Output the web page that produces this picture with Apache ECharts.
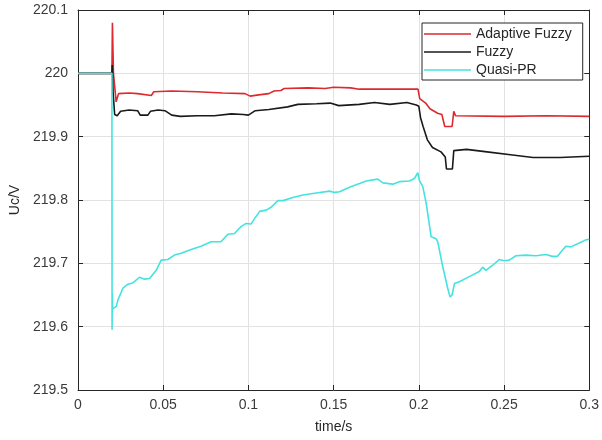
<!DOCTYPE html>
<html>
<head>
<meta charset="utf-8">
<script src="https://cdn.jsdelivr.net/npm/echarts@6/dist/echarts.min.js"></script>
<style>html,body{margin:0;padding:0;background:#fff;}#c{width:602px;height:440px;}</style>
</head>
<body>
<div id="c"></div>
<script>
// ---- data (time in s, voltage in V) ----
const seriesNames = ['Adaptive Fuzzy', 'Fuzzy', 'Quasi-PR'];
const xTicks = [0, 0.05, 0.1, 0.15, 0.2, 0.25, 0.3];
const yTicks = [219.5, 219.6, 219.7, 219.8, 219.9, 220, 220.1];

const adaptiveFuzzy = [
  [0,220],[0.0199,220],[0.0202,220.08],[0.0208,220.0],[0.0224,219.955],[0.0238,219.968],
  [0.03,219.969],[0.035,219.968],[0.0358,219.965],[0.043,219.965],[0.0445,219.971],
  [0.055,219.972],[0.07,219.971],[0.085,219.969],[0.098,219.968],[0.101,219.964],
  [0.106,219.966],[0.112,219.968],[0.115,219.972],[0.119,219.973],[0.121,219.976],
  [0.135,219.977],[0.145,219.976],[0.15,219.978],[0.16,219.977],[0.165,219.975],
  [0.185,219.975],[0.1995,219.975],[0.2005,219.96],[0.2015,219.963],[0.204,219.953],
  [0.2065,219.944],[0.211,219.937],[0.2135,219.935],[0.2152,219.916],[0.2195,219.916],
  [0.2205,219.94],[0.2215,219.933],[0.25,219.932],[0.275,219.933],[0.3,219.932]
];

const fuzzy = [
  [0,220],[0.0199,220],[0.0201,220.013],[0.0206,219.97],[0.0215,219.935],[0.023,219.933],
  [0.025,219.94],[0.03,219.942],[0.035,219.941],[0.0365,219.934],[0.041,219.934],
  [0.0425,219.94],[0.047,219.942],[0.051,219.941],[0.055,219.934],[0.06,219.932],
  [0.07,219.933],[0.08,219.933],[0.09,219.936],[0.097,219.935],[0.1,219.934],
  [0.104,219.941],[0.112,219.943],[0.123,219.947],[0.129,219.951],[0.14,219.952],
  [0.148,219.953],[0.153,219.949],[0.165,219.951],[0.174,219.954],[0.183,219.951],
  [0.193,219.954],[0.1985,219.95],[0.2,219.948],[0.201,219.93],[0.2025,219.916],
  [0.205,219.895],[0.208,219.883],[0.213,219.876],[0.2155,219.868],[0.2162,219.849],
  [0.2197,219.849],[0.2205,219.878],[0.228,219.88],[0.24,219.876],[0.255,219.871],
  [0.267,219.867],[0.283,219.867],[0.3,219.869]
];

const quasiPR = [
  [0,220],[0.0199,220],[0.02,219.595],[0.0201,219.652],[0.0203,219.628],[0.0225,219.632],
  [0.0234,219.642],[0.0264,219.661],[0.0293,219.667],[0.0322,219.669],[0.0332,219.666],
  [0.0361,219.678],[0.0391,219.675],[0.042,219.676],[0.0459,219.689],[0.0488,219.705],
  [0.0527,219.706],[0.0566,219.713],[0.0605,219.716],[0.0664,219.722],[0.0722,219.727],
  [0.0781,219.734],[0.0839,219.734],[0.0879,219.746],[0.0918,219.747],[0.0957,219.758],
  [0.0986,219.763],[0.1015,219.762],[0.1037,219.771],[0.1066,219.782],[0.1105,219.784],
  [0.1135,219.789],[0.1173,219.799],[0.1203,219.799],[0.1261,219.804],[0.132,219.808],
  [0.1398,219.811],[0.1476,219.814],[0.1505,219.812],[0.1535,219.813],[0.1593,219.82],
  [0.1652,219.826],[0.1691,219.83],[0.1759,219.833],[0.1789,219.827],[0.1847,219.825],
  [0.1886,219.829],[0.1945,219.83],[0.1974,219.834],[0.1994,219.843],[0.2003,219.831],
  [0.2023,219.821],[0.2043,219.795],[0.2072,219.742],[0.2101,219.739],[0.2111,219.734],
  [0.214,219.695],[0.2169,219.661],[0.2183,219.647],[0.2195,219.65],[0.2209,219.668],
  [0.2238,219.671],[0.2296,219.679],[0.2355,219.687],[0.2374,219.694],[0.2394,219.689],
  [0.2433,219.697],[0.2472,219.706],[0.2501,219.704],[0.253,219.705],[0.257,219.712],
  [0.2629,219.713],[0.2687,219.712],[0.2746,219.714],[0.2784,219.711],[0.2814,219.711],
  [0.2843,219.721],[0.2863,219.727],[0.2892,219.726],[0.2941,219.732],[0.298,219.737],
  [0.3,219.738]
];

const colors = ['#dc2a2e', '#1a1a1a', '#44e3e0'];

// ---- chart ----
const FONT = 'Liberation Sans, Arial, sans-serif';
const axisColor = '#262626';
const labelColor = '#3a3a3a';
const chart = echarts.init(document.getElementById('c'), null, {renderer: 'canvas'});

const baseX = {
  type: 'value', min: xTicks[0], max: xTicks[xTicks.length - 1], interval: 0.05,
  axisLine: {show: true, onZero: false, lineStyle: {color: axisColor, width: 1}},
  axisTick: {show: true, inside: true, length: 5, lineStyle: {color: axisColor}},
};
const baseY = {
  type: 'value', min: yTicks[0], max: yTicks[yTicks.length - 1], interval: 0.1,
  axisLine: {show: true, onZero: false, lineStyle: {color: axisColor, width: 1}},
  axisTick: {show: true, inside: true, length: 5, lineStyle: {color: axisColor}},
};

chart.setOption({
  animation: false,
  backgroundColor: '#ffffff',
  textStyle: {fontFamily: FONT},
  grid: {left: 78, right: 12, top: 10, bottom: 50, containLabel: false},
  legend: {
    orient: 'vertical', left: 422, top: 23,
    data: seriesNames,
    itemWidth: 47, itemHeight: 14, itemGap: 4,
    padding: [4, 11, 3, 2],
    borderColor: axisColor, borderWidth: 1, backgroundColor: '#ffffff',
    textStyle: {fontFamily: FONT, fontSize: 14, color: '#262626'},
    icon: 'path://M0,0 L100,0 L100,3.2 L0,3.2 Z',
    itemStyle: {borderWidth: 0}
  },
  xAxis: [
    Object.assign({}, baseX, {
      position: 'bottom',
      name: 'time/s', nameLocation: 'middle', nameGap: 30,
      nameTextStyle: {fontFamily: FONT, fontSize: 14, color: '#262626'},
      axisLabel: {show: true, margin: 8, fontFamily: FONT, fontSize: 14, color: labelColor,
        formatter: v => String(+v.toFixed(2))},
      splitLine: {show: true, lineStyle: {color: '#e2e2e2', width: 1}}
    }),
    Object.assign({}, baseX, {
      position: 'top', axisLabel: {show: false}, splitLine: {show: false}
    })
  ],
  yAxis: [
    Object.assign({}, baseY, {
      position: 'left',
      name: 'Uc/V', nameLocation: 'middle', nameGap: 53, nameRotate: 90,
      nameTextStyle: {fontFamily: FONT, fontSize: 14, color: '#262626'},
      axisLabel: {show: true, margin: 10, fontFamily: FONT, fontSize: 14, color: labelColor,
        formatter: v => String(+v.toFixed(1))},
      splitLine: {show: true, lineStyle: {color: '#e2e2e2', width: 1}}
    }),
    Object.assign({}, baseY, {
      position: 'right', axisLabel: {show: false}, splitLine: {show: false}
    })
  ],
  series: [
    {name: seriesNames[0], data: adaptiveFuzzy, color: colors[0]},
    {name: seriesNames[1], data: fuzzy, color: colors[1]},
    {name: seriesNames[2], data: quasiPR, color: colors[2]}
  ].map(s => ({
    type: 'line', name: s.name, data: s.data, xAxisIndex: 0, yAxisIndex: 0,
    showSymbol: false, symbol: 'none',
    itemStyle: {color: s.color},
    lineStyle: {color: s.color, width: 1.6},
    emphasis: {disabled: true}
  }))
});
</script>
</body>
</html>
